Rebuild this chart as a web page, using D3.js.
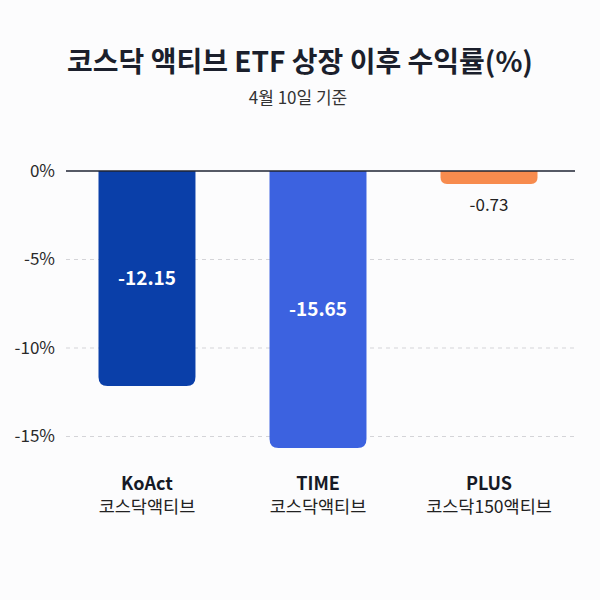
<!DOCTYPE html>
<html><head><meta charset="utf-8">
<script src="https://cdn.jsdelivr.net/npm/d3@7"></script>
<style>
html,body{margin:0;padding:0;background:#fcfcfd;}
svg{display:block;font-family:"Noto Sans CJK KR","Noto Sans",sans-serif;}
</style></head>
<body><div id="chart"></div>
<script>
const categories = ["KoAct", "TIME", "PLUS"];
const subLabels = ["코스닥액티브", "코스닥액티브", "코스닥150액티브"];
const values = [-12.15, -15.65, -0.73];
const tickValues = [0, -5, -10, -15];
const title = "코스닥 액티브 ETF 상장 이후 수익률(%)";
const subtitle = "4월 10일 기준";

const W = 600, H = 600;
const svg = d3.select("#chart").append("svg").attr("width", W).attr("height", H);
svg.append("rect").attr("width", W).attr("height", H).attr("fill", "#fcfcfd");

const color = d3.scaleOrdinal().domain(categories).range(["#0a3fa9", "#3c62e0", "#f78b4e"]);
const x = d3.scaleBand().domain(categories).range([98.5, 537.5]).paddingInner(0.433).paddingOuter(0);
const y = d3.scaleLinear().domain([0, -15.65]).range([171, 448]);

svg.append("text").attr("x", 300).attr("y", 72).attr("text-anchor", "middle")
  .attr("font-size", 28).attr("font-weight", 700).attr("fill", "#1b1f2c").text(title);
svg.append("text").attr("x", 298).attr("y", 104).attr("text-anchor", "middle")
  .attr("font-size", 17).attr("fill", "#333").text(subtitle);

// grid
const gx0 = 66, gx1 = 575;
svg.append("g").selectAll("line").data(tickValues.filter(d => d !== 0)).join("line")
  .attr("x1", gx0).attr("x2", gx1).attr("y1", d => y(d)).attr("y2", d => y(d))
  .attr("stroke", "#d4d4d8").attr("stroke-width", 1).attr("stroke-dasharray", "4,4");

// y axis labels
const axis = d3.axisLeft(y).tickValues(tickValues).tickSize(0).tickPadding(0).tickFormat(d => d + "%");
const ag = svg.append("g").attr("transform", `translate(55,0)`).call(axis);
ag.select(".domain").remove();
ag.selectAll("text").attr("font-size", 17).attr("fill", "#2a2a2a")
  .attr("font-family", "\"Noto Sans CJK KR\",\"Noto Sans\",sans-serif");

// bars
function barPath(x0, w, yTop, yBot, r) {
  r = Math.min(r, (yBot - yTop) / 2, w / 2);
  return `M${x0},${yTop}H${x0 + w}V${yBot - r}Q${x0 + w},${yBot} ${x0 + w - r},${yBot}H${x0 + r}Q${x0},${yBot} ${x0},${yBot - r}Z`;
}
const data = categories.map((c, i) => ({ c, v: values[i], sub: subLabels[i] }));
svg.append("g").selectAll("path").data(data).join("path")
  .attr("d", d => barPath(x(d.c), x.bandwidth(), y(0), y(d.v), 9))
  .attr("fill", d => color(d.c));

// zero line
svg.append("line").attr("x1", gx0).attr("x2", gx1).attr("y1", y(0)).attr("y2", y(0))
  .attr("stroke", "#1f2433").attr("stroke-width", 1.3);

// value labels
svg.append("g").selectAll("text").data(data).join("text")
  .attr("x", d => x(d.c) + x.bandwidth() / 2)
  .attr("y", d => Math.abs(d.v) > 3 ? (y(0) + y(d.v)) / 2 : y(d.v) + 21)
  .attr("dy", "0.35em")
  .attr("text-anchor", "middle")
  .attr("font-size", d => Math.abs(d.v) > 3 ? 19 : 17)
  .attr("font-weight", d => Math.abs(d.v) > 3 ? 700 : 400)
  .attr("fill", d => Math.abs(d.v) > 3 ? "#ffffff" : "#222")
  .text(d => d.v.toFixed(2));

// category labels
const xa = svg.append("g");
xa.selectAll("text.main").data(data).join("text").attr("class", "main")
  .attr("x", d => x(d.c) + x.bandwidth() / 2).attr("y", 490)
  .attr("text-anchor", "middle").attr("font-size", 18).attr("font-weight", 700)
  .attr("fill", "#161a26").text(d => d.c);
xa.selectAll("text.sub").data(data).join("text").attr("class", "sub")
  .attr("x", d => x(d.c) + x.bandwidth() / 2).attr("y", 513)
  .attr("text-anchor", "middle").attr("font-size", 17.5)
  .attr("fill", "#222").text(d => d.sub);
</script></body></html>
